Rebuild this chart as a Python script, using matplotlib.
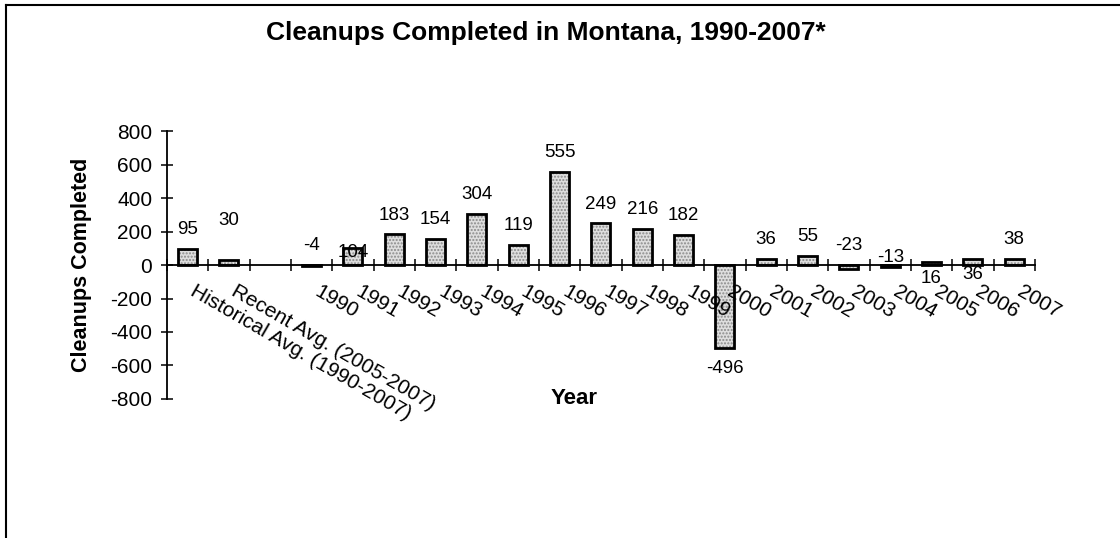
import matplotlib.pyplot as plt
from matplotlib.lines import Line2D
from matplotlib.transforms import offset_copy

plt.rcParams['font.family'] = ['Liberation Sans', 'DejaVu Sans']
plt.rcParams['axes.unicode_minus'] = False

# categories as on the sheet (third slot is an empty spacer column)
categories = ['Historical Avg. (1990-2007)', 'Recent Avg. (2005-2007)', '',
              '1990', '1991', '1992', '1993', '1994', '1995', '1996', '1997',
              '1998', '1999', '2000', '2001', '2002', '2003', '2004', '2005',
              '2006', '2007']
values = [95, 30, None,
          -4, 104, 183, 154, 304, 119, 555, 249,
          216, 182, -496, 36, 55, -23, -13, 16,
          36, 38]
y_ticks = [-800, -600, -400, -200, 0, 200, 400, 600, 800]

# data labels that were dragged around by hand in the original
label_moves = {'Recent Avg. (2005-2007)': 263, '1991': 72, '2004': 42,
               '2005': -78, '2006': -54}


def label_y(cat, v):
    if cat in label_moves:
        return label_moves[cat]
    if v < -100:
        return v - 120
    return max(v, 0) + 115


fig = plt.figure(figsize=(11.2, 5.38), dpi=100)
ax = fig.add_axes([0.149, 0.2584, 0.775, 0.498])

xs = [i for i, v in enumerate(values) if v is not None]
vs = [v for v in values if v is not None]

# stippled fill, then black outline on top
ax.bar(xs, vs, width=0.46, color='#dedede', edgecolor='#8a8a8a',
       linewidth=0, hatch='.....', zorder=2)
ax.bar(xs, vs, width=0.46, facecolor='none', edgecolor='black',
       linewidth=2, zorder=3)

for x, v in zip(xs, vs):
    cat = categories[x]
    ax.text(x, label_y(cat, v), str(v), ha='center', va='center',
            fontsize=13.5, zorder=4)

ax.set_xlim(-0.5, len(categories) - 0.5)
ax.set_ylim(-800, 800)
ax.set_yticks(y_ticks)
ax.set_xticks([i - 0.5 for i in range(len(categories) + 1)])
ax.set_xticklabels([])

for s in ['top', 'right']:
    ax.spines[s].set_visible(False)
ax.spines['bottom'].set_position(('data', 0))
ax.spines['bottom'].set_linewidth(1.3)
ax.spines['left'].set_linewidth(1.3)
ax.tick_params(axis='both', direction='inout', length=9, width=1.1)
ax.tick_params(axis='y', labelsize=15, pad=6)

lab_trans = offset_copy(ax.transData, fig=fig, x=9, y=-17, units='dots')
for i, cat in enumerate(categories):
    if cat:
        ax.text(i, 0, cat, transform=lab_trans, rotation=-30,
                rotation_mode='anchor', ha='left', va='top', fontsize=15)

fig.text(0.4875, 0.938, 'Cleanups Completed in Montana, 1990-2007*',
         ha='center', va='center', fontsize=19, fontweight='bold')
fig.text(0.073, 0.507, 'Cleanups Completed', rotation=90, ha='center',
         va='center', fontsize=15.5, fontweight='bold')
fig.text(0.513, 0.26, 'Year', ha='center', va='center', fontsize=16,
         fontweight='bold')

# outer chart frame (left and top edges only survive in the scan)
fig.add_artist(Line2D([0.0054, 0.0054], [0, 0.991], transform=fig.transFigure,
                      color='black', linewidth=1.5))
fig.add_artist(Line2D([0.0054, 1], [0.991, 0.991], transform=fig.transFigure,
                      color='black', linewidth=1.5))

fig.savefig('out.png', dpi=100)
